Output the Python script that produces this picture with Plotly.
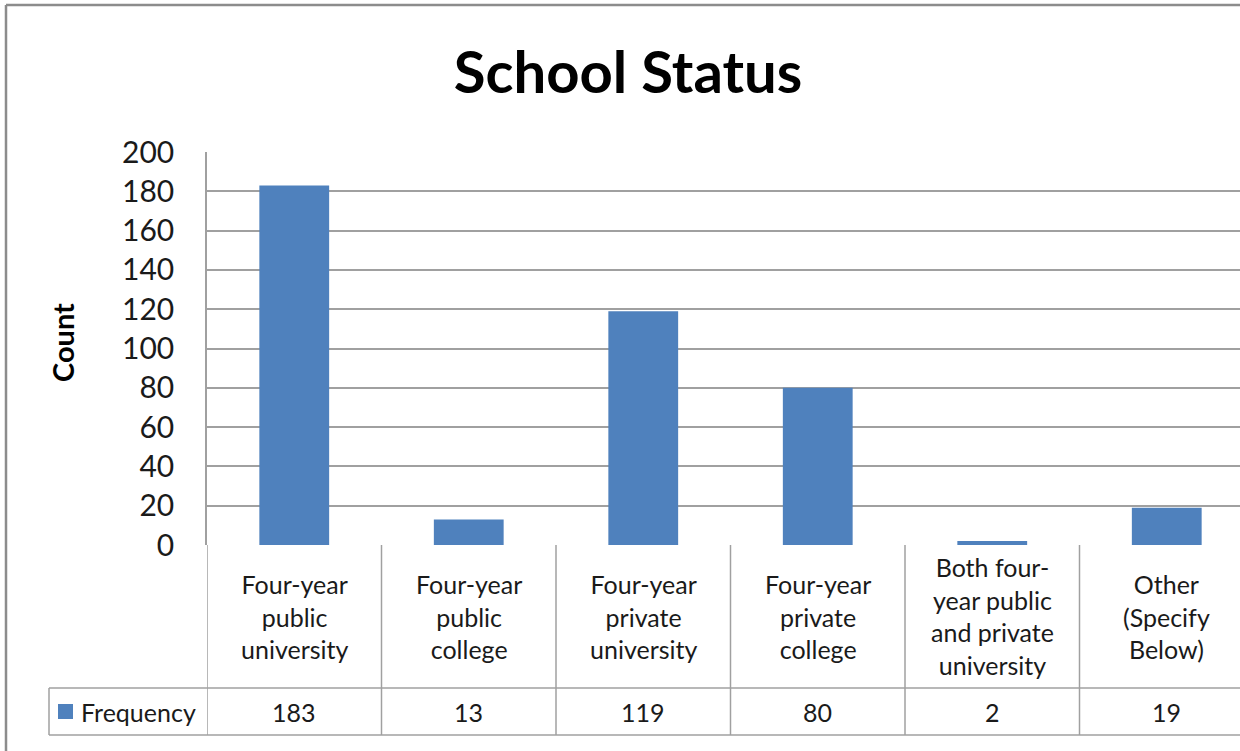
import plotly.graph_objects as go

# datos del grafico
categorias = ["Four-year<br>public<br>university", "Four-year<br>public<br>college",
              "Four-year<br>private<br>university", "Four-year<br>private<br>college",
              "Both four-<br>year public<br>and private<br>university",
              "Other<br>(Specify<br>Below)"]
frecuencia = [183, 13, 119, 80, 2, 19]
y_ticks = [0, 20, 40, 60, 80, 100, 120, 140, 160, 180, 200]

W, H = 1240, 751
L, R, T, B = 207, 0, 152, 206
alto_plot = H - T - B
ancho_plot = W - L - R


def py(pix):
    # pixel vertical -> coordenada paper
    return (H - B - pix) / alto_plot


def px(pix):
    return (pix - L) / ancho_plot


FUENTE = "Lato, 'Open Sans', sans-serif"
GRIS = "#a0a0a0"
TEXTO = "#1a1a1a"

x = list(range(len(frecuencia)))

fig = go.Figure()
fig.add_trace(go.Bar(x=x, y=frecuencia, width=0.4, name="Frequency",
                     marker=dict(color="#4f81bd", line=dict(width=0))))

shapes = []
# lineas de la tabla de datos
for i in range(len(frecuencia) + 1):
    shapes.append(dict(type="line", xref="x", yref="paper", x0=i - 0.5, x1=i - 0.5,
                       y0=0, y1=py(735), line=dict(color=GRIS, width=1.5)))
for yy in (688, 735):
    shapes.append(dict(type="line", xref="paper", yref="paper", x0=px(49), x1=1.02,
                       y0=py(yy), y1=py(yy), line=dict(color=GRIS, width=1.5)))
shapes.append(dict(type="line", xref="paper", yref="paper", x0=px(49), x1=px(49),
                   y0=py(688), y1=py(735), line=dict(color=GRIS, width=1.5)))
# borde exterior del grafico
shapes.append(dict(type="line", xref="paper", yref="paper", x0=px(6), x1=px(1245),
                   y0=py(5), y1=py(5), line=dict(color="#8c8c8c", width=2.5)))
shapes.append(dict(type="line", xref="paper", yref="paper", x0=px(6), x1=px(6),
                   y0=py(5), y1=py(760), line=dict(color="#8c8c8c", width=2.5)))
# leyenda en la tabla
shapes.append(dict(type="rect", xref="paper", yref="paper", x0=px(58), x1=px(73),
                   y0=py(704), y1=py(719), fillcolor="#4f81bd", line=dict(width=0)))

annotations = []
for i, (c, v) in enumerate(zip(categorias, frecuencia)):
    annotations.append(dict(x=i, y=py(616), xref="x", yref="paper", text=c, showarrow=False,
                            xanchor="center", yanchor="middle",
                            font=dict(size=25, color=TEXTO, family=FUENTE)))
    annotations.append(dict(x=i, y=py(712), xref="x", yref="paper", text=str(v), showarrow=False,
                            xanchor="center", yanchor="middle",
                            font=dict(size=25, color=TEXTO, family=FUENTE)))
annotations.append(dict(x=px(79), y=py(712), xref="paper", yref="paper", text="Frequency",
                        xanchor="left", yanchor="middle", showarrow=False,
                        font=dict(size=25, color=TEXTO, family=FUENTE)))
annotations.append(dict(x=px(62), y=py(343), xref="paper", yref="paper", text="<b>Count</b>",
                        textangle=-90, xanchor="center", yanchor="middle", showarrow=False,
                        font=dict(size=29, color="#000000", family=FUENTE)))

fig.update_layout(
    width=W, height=H,
    margin=dict(l=L, r=R, t=T, b=B),
    paper_bgcolor="white", plot_bgcolor="white",
    showlegend=False,
    title=dict(text="<b>School Status</b>", x=628 / W, xanchor="center",
               y=1 - 73 / H, yanchor="middle",
               font=dict(size=58, color="#000000", family=FUENTE)),
    xaxis=dict(range=[-0.5, 5.5 - 14 / 174.5], showticklabels=False, showgrid=False,
               zeroline=False, showline=False, ticks=""),
    yaxis=dict(range=[0, 200], tickvals=y_ticks, showgrid=True, gridcolor=GRIS, gridwidth=1.5,
               showline=True, linecolor=GRIS, linewidth=1.5, mirror=False, zeroline=False,
               ticks="", ticklabelstandoff=25,
               tickfont=dict(size=30, color=TEXTO, family=FUENTE)),
    shapes=shapes, annotations=annotations,
)

# quitar el margen del body para que el grafico quede en (0, 0)
fig.write_html("out.html", config={"displayModeBar": False},
               post_script="document.body.style.margin='0';")
